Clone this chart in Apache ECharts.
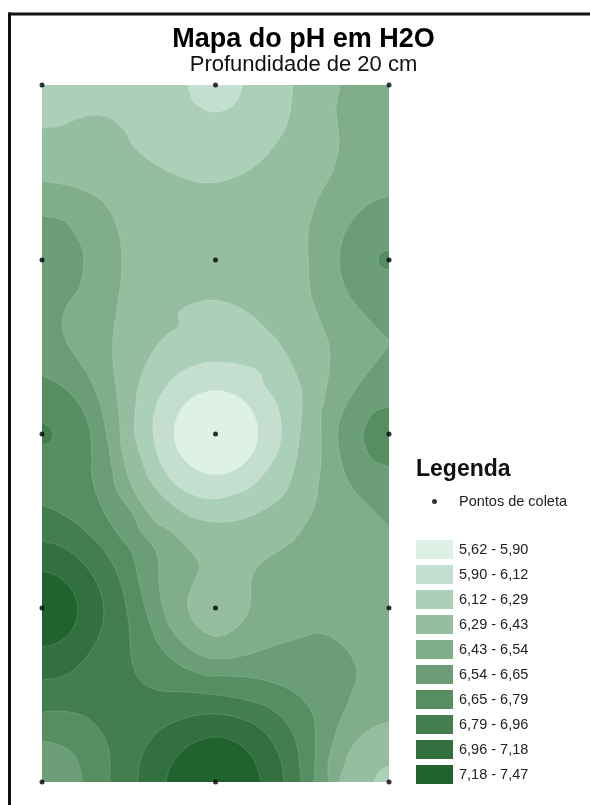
<!DOCTYPE html>
<html>
<head>
<meta charset="utf-8">
<style>
  html, body { margin: 0; padding: 0; background: #fff; }
  #chart { width: 590px; height: 805px; }
</style>
</head>
<body>
<div id="chart"></div>
<script src="https://cdn.jsdelivr.net/npm/echarts@6/dist/echarts.min.js"></script>
<script>
const classLabels = ['5,62 - 5,90', '5,90 - 6,12', '6,12 - 6,29', '6,29 - 6,43', '6,43 - 6,54', '6,54 - 6,65', '6,65 - 6,79', '6,79 - 6,96', '6,96 - 7,18', '7,18 - 7,47']
const classColors = ['#DDF1E7', '#C4DFCF', '#ABCFB8', '#94BE9F', '#80AE89', '#6B9E76', '#568E61', '#447D4E', '#33703F', '#20632F']

// collection points, in map units
const pointCols = [0, 174, 348]
const pointRows = [0, 175, 349, 523, 697]

// contour outlines, in map units (x 0-348, y 0-697 going down)
// they run past the map edge on purpose, the series clips them
const band1 = [
  [[132.5,347.5],[138,326.5],[153.5,311],[174.5,305.5],[195.5,311],[211,326.5],[216.5,347.5],[211,368.5],[195.5,384],[174.5,389.5],[153.5,384],[138,368.5]]
]
const band2 = [
  [[146,-20],[150,13],[160,23],[173,27],[188,23],[198,11],[202,-20]],
  [[111,343],[113,326],[122,305],[138,288],[158,279],[175,277],[195,279],[217,286],[223,300],[235,318],[240,341],[237,365],[225,386],[208,403],[188,411],[172,414],[152,410],[132,398],[118,376],[113,358]]
]
const band3 = [
  [[-20,45],[0,43],[18,41],[35,34],[53,30],[68,33],[83,46],[93,63],[115,80],[142,93],[165,98],[192,93],[215,80],[235,58],[247,35],[252,0],[254,-20],[-20,-20]],
  [[137,228],[148,220],[168,215],[190,219],[210,230],[222,241],[238,258],[252,283],[259,300],[261,315],[260,335],[258,355],[252,388],[242,410],[222,425],[198,435],[172,437],[148,431],[125,415],[108,395],[98,368],[93,350],[93,331],[98,295],[112,265],[126,249],[137,241]],
  [[330,712],[337,688],[348,681],[368,676],[368,712]]
]
const band4 = [
  [[293,-20],[295,28],[298,58],[292,85],[278,111],[268,141],[267,175],[270,211],[280,238],[288,261],[288,285],[283,315],[280,328],[280,371],[277,401],[272,425],[253,455],[245,461],[218,480],[210,495],[209,518],[202,536],[185,549],[172,551],[155,541],[147,525],[147,511],[155,491],[158,480],[148,465],[127,445],[115,438],[92,405],[80,365],[77,325],[72,285],[71,255],[75,225],[80,185],[77,148],[62,118],[35,103],[0,96],[-20,93],[-20,-20]],
  [[300,715],[305,675],[318,653],[335,641],[348,637],[368,632],[368,715]]
]
const band5 = [
  [[-30,-30],[380,-30],[380,730],[-30,730]]
]
const band6 = [
  [[-20,128],[0,131],[22,136],[38,158],[42,175],[38,201],[25,221],[20,240],[27,261],[45,288],[58,318],[65,351],[70,381],[75,405],[92,431],[98,445],[115,468],[118,505],[125,535],[138,555],[158,570],[178,574],[205,570],[235,560],[265,551],[275,548],[292,553],[308,568],[316,588],[308,615],[298,638],[292,658],[287,678],[287,697],[287,715],[-20,715]],
  [[368,105],[348,111],[325,121],[305,145],[298,175],[305,205],[322,228],[348,255],[368,275]],
  [[348,261],[332,281],[312,308],[298,338],[298,365],[308,398],[328,421],[348,441],[368,461],[368,241]]
]
const band7 = [
  [[-20,285],[0,291],[18,300],[35,316],[47,341],[50,375],[50,391],[58,418],[75,448],[90,468],[98,501],[108,538],[118,561],[135,578],[162,590],[185,591],[212,593],[238,600],[258,611],[272,631],[274,661],[273,697],[273,715],[42,715],[41,697],[33,671],[18,660],[0,656],[-20,652]],
  [[348,321],[332,328],[323,345],[323,358],[332,375],[348,382],[368,392],[368,311]],
  [[348,165],[340,168],[337,175],[340,182],[348,185],[358,185],[358,165]]
]
const band8 = [
  [[-20,413],[0,420],[18,428],[38,441],[42,445],[62,465],[78,495],[87,538],[90,575],[98,595],[115,605],[145,607],[175,610],[205,615],[228,623],[245,638],[255,658],[260,697],[261,715],[68,715],[68,697],[67,665],[58,645],[42,631],[18,626],[0,627],[-20,628]],
  [[0,338],[8,343],[11,349],[8,357],[0,360],[-10,360],[-10,338]]
]
const band9 = [
  [[-20,450],[0,456],[18,461],[38,475],[55,498],[62,525],[57,551],[42,575],[22,591],[0,595],[-20,598]],
  [[95,715],[96,697],[100,671],[115,648],[138,635],[168,629],[198,633],[222,646],[238,671],[243,697],[244,715]]
]
const band10 = [
  [[-20,482],[0,486],[15,491],[30,505],[36,525],[30,545],[15,558],[0,562],[-20,566]],
  [[123,715],[124,697],[132,676],[148,660],[172,652],[192,656],[210,671],[220,697],[222,715]]
]
const bands = [band1, band2, band3, band4, band5, band6, band7, band8, band9, band10]
// overlapping outlines, so the paint order matters
const paintOrder = [4, 3, 2, 1, 0, 5, 6, 7, 8, 9]

const pointData = []
pointRows.forEach(y => pointCols.forEach(x => pointData.push([x, y])))

const chart = echarts.init(document.getElementById('chart'))

const bandSeries = paintOrder.map(i => ({
  name: classLabels[i],
  type: 'custom',
  coordinateSystem: 'cartesian2d',
  clip: true,
  silent: true,
  itemStyle: { color: classColors[i] },
  encode: { x: 0, y: 1 },
  data: bands[i].map((outline, k) => [outline[0][0], outline[0][1], k]),
  renderItem: (params, api) => {
    const outline = bands[i][api.value(2)]
    return {
      type: 'polygon',
      shape: { points: outline.map(p => api.coord(p)), smooth: 0.35 },
      style: { fill: classColors[i], stroke: 'rgba(255,255,255,0.14)', lineWidth: 1 }
    }
  }
}))

chart.setOption({
  animation: false,
  backgroundColor: '#fff',
  title: [
    { text: 'Mapa do pH em H2O', left: 303.5, top: 26, padding: 0, textAlign: 'center',
      textStyle: { fontFamily: 'Liberation Sans', fontSize: 27, fontWeight: 'bold', color: '#000' } },
    { text: 'Profundidade de 20 cm', left: 303.5, top: 54, padding: 0, textAlign: 'center',
      textStyle: { fontFamily: 'Liberation Sans', fontSize: 22, fontWeight: 'normal', color: '#111' } },
    { text: 'Legenda', left: 416, top: 458, padding: 0,
      textStyle: { fontFamily: 'Liberation Sans', fontSize: 23, fontWeight: 'bold', color: '#111' } }
  ],
  grid: { left: 42, top: 85, width: 347, height: 697, containLabel: false },
  xAxis: { type: 'value', min: 0, max: 348, show: false },
  yAxis: { type: 'value', min: 0, max: 697, inverse: true, show: false },
  legend: [
    {
      data: classLabels,
      orient: 'vertical',
      left: 416,
      top: 540,
      padding: 0,
      itemWidth: 37,
      itemHeight: 19,
      itemGap: 6,
      selectedMode: false,
      icon: 'rect',
      textStyle: { fontFamily: 'Liberation Sans', fontSize: 14.5, color: '#222', padding: [0, 0, 0, 1] }
    },
    {
      data: ['Pontos de coleta'],
      left: 432,
      top: 494,
      padding: 0,
      itemWidth: 37,
      itemHeight: 5,
      selectedMode: false,
      icon: 'circle',
      textStyle: { fontFamily: 'Liberation Sans', fontSize: 14.5, color: '#222', padding: [0, 0, 0, 1] }
    }
  ],
  graphic: [
    { type: 'line', silent: true, shape: { x1: 9.5, y1: 12.5, x2: 9.5, y2: 805 }, style: { stroke: '#111', lineWidth: 3 } },
    { type: 'line', silent: true, shape: { x1: 8, y1: 14, x2: 590, y2: 14 }, style: { stroke: '#111', lineWidth: 3 } }
  ],
  series: bandSeries.concat([{
    name: 'Pontos de coleta',
    type: 'scatter',
    data: pointData,
    symbolSize: 5,
    clip: false,
    z: 5,
    silent: true,
    itemStyle: { color: '#000' }
  }])
})
</script>
</body>
</html>
